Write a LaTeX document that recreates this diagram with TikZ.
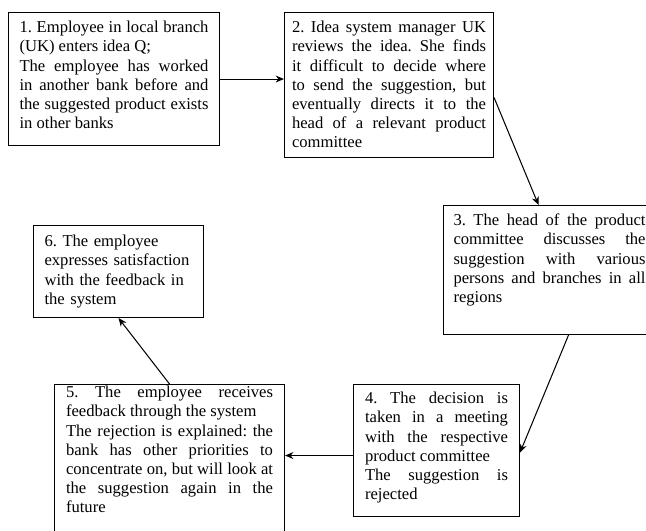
\documentclass[tikz,border=0pt]{standalone}
\usepackage{fontspec}
\setmainfont{Liberation Serif}
\usetikzlibrary{calc,arrows.meta}
\frenchspacing

\begin{document}
\begin{tikzpicture}[
        x=0.7225pt, y=-0.7225pt,
        box/.style={draw, line width=0.75pt, anchor=north west, inner ysep=0pt, align=justify, font=\fontsize{12}{13.9}\selectfont},
        arrow/.style={-{Stealth[length=6pt,width=5pt]}, line width=0.75pt}
    ]
        \useasboundingbox (0,0) rectangle (646,530);
        \clip (0,0) rectangle (646,530);

        % Top row boxes
        \node[box, inner xsep=7.95pt, text width=136.55pt, text height=14.45pt, text depth=81.64pt] (entry) at (8,12) {1. Employee in local branch\linebreak
            (UK) enters idea Q;\\
            The employee has worked\linebreak
            in another bank before and\linebreak
            the suggested product exists\linebreak
            in other banks};
        \node[box, inner xsep=5.42pt, text width=140.17pt, text height=14.45pt, text depth=90.31pt] (review) at (284,12) {2. Idea system manager UK\linebreak
            reviews the idea. She finds\linebreak
            it difficult to decide where\linebreak
            to send the suggestion, but\linebreak
            eventually directs it to the\linebreak
            head of a relevant product\linebreak
            committee};

        % Right box
        \node[box, inner xsep=7.23pt, text width=138.72pt, text height=14.45pt, text depth=78.75pt] (discuss) at (443,205) {3. The head of the product\linebreak
            committee discusses the\linebreak
            suggestion with various\linebreak
            persons and branches in all\linebreak
            regions};

        % Bottom row boxes
        \node[box, inner xsep=8.31pt, text width=103.32pt, text height=13.73pt, text depth=81.64pt] (decision) at (353,384) {4. The decision is\linebreak
            taken in a meeting\linebreak
            with the respective\linebreak
            product committee\\
            The suggestion is\linebreak
            rejected};
        \node[box, inner xsep=8.31pt, text width=149.56pt, text height=9.39pt, text depth=106.9pt] (feedback) at (54,384) {5. The employee receives\linebreak
            feedback through the system\\
            The rejection is explained: the\linebreak
            bank has other priorities to\linebreak
            concentrate on, but will look at\linebreak
            the suggestion again in the\linebreak
            future};

        % Left box
        \node[box, align=left, inner xsep=7.95pt, text width=106.93pt, text height=15.17pt, text depth=51.3pt] (satisfied) at (33,225) {6. The employee\\
            expresses satisfaction\\
            with the feedback in\\
            the system};

        % Arrows
        \coordinate (reject) at ($(decision.west)+(0,5)$);
        \draw[arrow] (entry.east) -- (entry.east -| review.west);
        \draw[arrow] ($(review.east)+(0,12.5)$) -- ($(discuss.north)+(-11,0)$);
        \draw[arrow] ($(discuss.south)+(19,0)$) -- ($(decision.east)+(0,2)$);
        \draw[arrow] (reject) -- (reject -| feedback.east);
        \draw[arrow] (feedback.north) -- (satisfied.south);
    \end{tikzpicture}
\end{document}
